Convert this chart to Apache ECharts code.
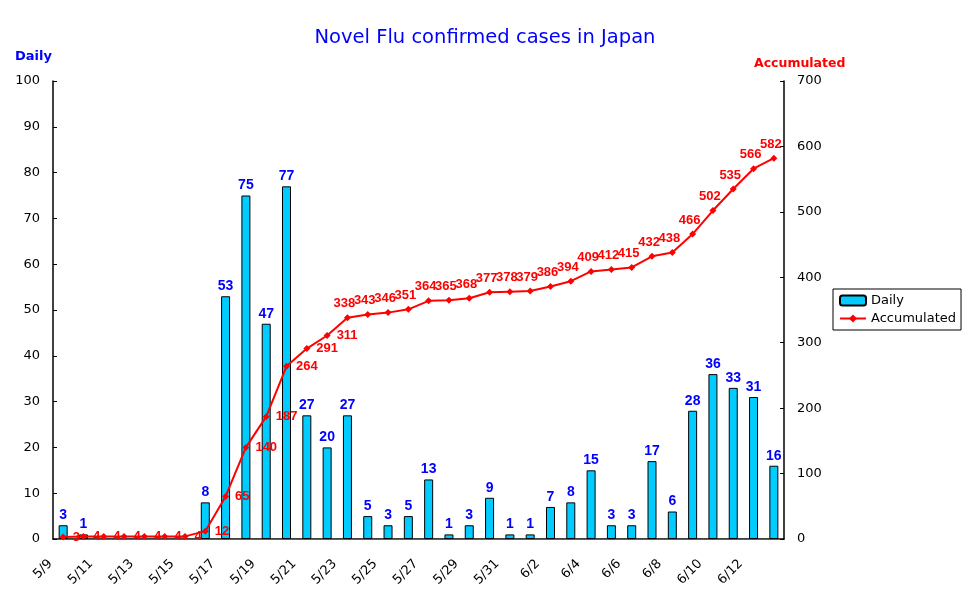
<!DOCTYPE html>
<html>
<head>
<meta charset="utf-8">
<script src="https://cdn.jsdelivr.net/npm/echarts@6/dist/echarts.min.js"></script>
<style>
html, body { margin: 0; padding: 0; background: #fff; }
#chart { width: 970px; height: 603px; }
</style>
</head>
<body>
<div id="chart"></div>
<script>
var dates = ['5/9','5/10','5/11','5/12','5/13','5/14','5/15','5/16','5/17','5/18','5/19','5/20',
  '5/21','5/22','5/23','5/24','5/25','5/26','5/27','5/28','5/29','5/30','5/31',
  '6/1','6/2','6/3','6/4','6/5','6/6','6/7','6/8','6/9','6/10','6/11','6/12','6/13'];
// no report on 5/11 - 5/15
var daily = [3, 1, null, null, null, null, null, 8, 53, 75, 47, 77,
  27, 20, 27, 5, 3, 5, 13, 1, 3, 9, 1,
  1, 7, 8, 15, 3, 3, 17, 6, 28, 36, 33, 31, 16];
var accumulated = [3, 4, 4, 4, 4, 4, 4, 12, 65, 140, 187, 264,
  291, 311, 338, 343, 346, 351, 364, 365, 368, 377, 378,
  379, 386, 394, 409, 412, 415, 432, 438, 466, 502, 535, 566, 582];

var myChart = echarts.init(document.getElementById('chart'));
var font = 'DejaVu Sans, sans-serif';
var lblFont = 'Liberation Sans, Arial, sans-serif';

// labels to the right until 311, above afterwards
var accData = [];
for (var i = 0; i < accumulated.length; i++) {
  var item = { value: accumulated[i] };
  if (accumulated[i] >= 338) {
    item.label = { position: 'top', distance: 4, offset: [-3, 0] };
  }
  accData.push(item);
}

var option = {
  animation: false,
  textStyle: { fontFamily: font },
  title: [
    { text: 'Novel Flu confirmed cases in Japan', left: 'center', top: 23,
      textStyle: { color: '#0000ff', fontSize: 19.5, fontWeight: 'normal', fontFamily: font } },
    { text: 'Daily', left: 10, top: 45,
      textStyle: { color: '#0000ff', fontSize: 13, fontWeight: 'bold', fontFamily: font } },
    { text: 'Accumulated', left: 749, top: 52,
      textStyle: { color: '#ff0000', fontSize: 12.5, fontWeight: 'bold', fontFamily: font } }
  ],
  legend: {
    orient: 'vertical',
    left: 833, top: 289,
    padding: [5, 5, 5, 6],
    itemGap: 5,
    itemWidth: 26, itemHeight: 10,
    borderColor: '#000', borderWidth: 1, borderRadius: 0,
    backgroundColor: '#fff',
    textStyle: { color: '#000', fontSize: 13, fontFamily: font },
    data: ['Daily', 'Accumulated']
  },
  grid: { left: 53, right: 186, top: 81, bottom: 64 },
  xAxis: [{
    type: 'category',
    data: dates,
    boundaryGap: true,
    axisLine: { lineStyle: { color: '#000', width: 1.5 } },
    axisTick: { inside: true, length: 4, interval: 0, lineStyle: { color: '#000' } },
    axisLabel: { interval: 1, rotate: 45, color: '#000', fontSize: 13, margin: 10,
      padding: [0, 18, 0, 0], fontFamily: font },
    splitLine: { show: false }
  }, {
    type: 'category',
    data: dates,
    position: 'top',
    axisLine: { show: true, lineStyle: { color: '#666', type: 'dotted', width: 1 } },
    axisTick: { show: false },
    axisLabel: { show: false },
    splitLine: { show: false }
  }],
  yAxis: [{
    type: 'value',
    min: 0, max: 100, interval: 10,
    axisLine: { show: true, lineStyle: { color: '#000', width: 1.5 } },
    axisTick: { show: true, inside: true, length: 4, lineStyle: { color: '#000' } },
    axisLabel: { color: '#000', fontSize: 13, margin: 13, fontFamily: font },
    splitLine: { show: false }
  }, {
    type: 'value',
    min: 0, max: 700, interval: 100,
    position: 'right',
    axisLine: { show: true, lineStyle: { color: '#000', width: 1.5 } },
    axisTick: { show: true, inside: true, length: 4, lineStyle: { color: '#000' } },
    axisLabel: { color: '#000', fontSize: 13, margin: 13, fontFamily: font },
    splitLine: { show: false }
  }],
  series: [{
    name: 'Daily',
    type: 'bar',
    data: daily,
    barWidth: 9,
    itemStyle: { color: '#00ccff', borderColor: '#000', borderWidth: 1 },
    label: { show: true, position: 'top', distance: 3, color: '#0000ff',
      fontSize: 14, fontWeight: 'bold', fontFamily: lblFont }
  }, {
    name: 'Accumulated',
    type: 'line',
    yAxisIndex: 1,
    data: accData,
    symbol: 'diamond',
    symbolSize: 7,
    lineStyle: { color: '#ff0000', width: 2 },
    itemStyle: { color: '#ff0000' },
    label: { show: true, position: 'right', distance: 6, color: '#ff0000',
      fontSize: 13, fontWeight: 'bold', fontFamily: lblFont }
  }]
};
myChart.setOption(option);
</script>
</body>
</html>
